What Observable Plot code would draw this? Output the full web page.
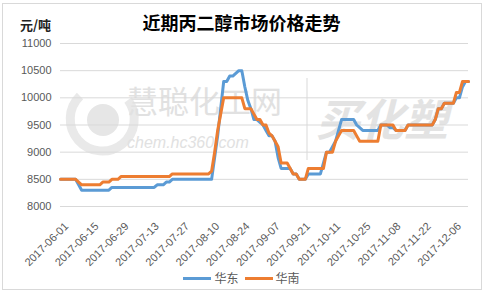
<!DOCTYPE html>
<html><head><meta charset="utf-8">
<script src="https://cdn.jsdelivr.net/npm/d3@7"></script>
<script src="https://cdn.jsdelivr.net/npm/@observablehq/plot@0.6"></script>
<style>
body{margin:0;background:#fff;}
#wrap{position:relative;width:488px;height:295px;overflow:hidden;background:#fff;font-family:"Noto Sans CJK SC","Noto Sans",sans-serif;}
#frame{position:absolute;left:2px;top:3px;width:480px;height:287px;border:1px solid #d9d9d9;box-sizing:border-box;}
#wm{position:absolute;left:0;top:0;width:488px;height:295px;}
#chart{position:absolute;left:0;top:0;}
#title{position:absolute;left:0;width:483px;top:9px;text-align:center;font-size:18px;font-weight:bold;color:#000;line-height:26px;}
#unit{position:absolute;left:20px;top:16px;font-size:13px;font-weight:bold;color:#222;line-height:18px;}
#legend{position:absolute;left:0;width:483px;top:269px;display:flex;justify-content:center;align-items:center;font-size:12px;color:#595959;line-height:18px;}
.sw{display:inline-block;width:28px;height:3px;margin-right:3px;}
.it{display:flex;align-items:center;margin:0 2px;}
</style></head>
<body>
<div id="wrap">
  <div id="frame"></div>
  <svg id="wm" width="488" height="295">
    <circle cx="103" cy="120" r="16" fill="#e6e6e6"/>
    <path d="M 80 96 A 32 32 0 1 0 128 100" fill="none" stroke="#e9e9e9" stroke-width="9"/>
    <text x="127" y="113" font-size="31" fill="#e1e1e1" font-family="Noto Sans CJK SC">慧聪化工网</text>
    <text x="127" y="148" font-size="16" font-style="italic" fill="#e1e1e1" font-family="Liberation Sans">chem.hc360.com</text>
    <line x1="307" y1="78" x2="307" y2="160" stroke="#e6e6e6" stroke-width="1.5"/>
    <text x="316" y="136" font-size="44" font-weight="bold" font-style="italic" fill="#e3e3e3" font-family="Noto Sans CJK SC">买化塑</text>
  </svg>
  <div id="chart"></div>
  <div id="title">近期丙二醇市场价格走势</div>
  <div id="unit">元/吨</div>
  <div id="legend">
    <span class="it"><span class="sw" style="background:#5b9bd5"></span>华东</span>
    <span class="it" style="margin-left:4px"><span class="sw" style="background:#ed7d31"></span>华南</span>
  </div>
</div>
<script>
// x tick positions (trading-day index) and their labels
const tickIdx = [0, 10, 20, 30, 40, 50, 60, 70, 80, 90, 100, 110, 120, 130];
const tickLabels = ["2017-06-01","2017-06-15","2017-06-29","2017-07-13","2017-07-27","2017-08-10","2017-08-24","2017-09-07","2017-09-21","2017-10-11","2017-10-25","2017-11-08","2017-11-22","2017-12-06"];
const yTicks = [8000, 8500, 9000, 9500, 10000, 10500, 11000];
const seriesNames = ["华东", "华南"];

// 华东 daily prices (元/吨)
const huadong = [
  8500,8500,8500,8500,8500,8500,8400,8300,8300,8300,
  8300,8300,8300,8300,8300,8300,8300,8350,8350,8350,
  8350,8350,8350,8350,8350,8350,8350,8350,8350,8350,
  8350,8350,8400,8400,8400,8450,8450,8500,8500,8500,
  8500,8500,8500,8500,8500,8500,8500,8500,8500,8500,
  8500,8900,9300,9800,10300,10300,10400,10400,10450,10500,
  10500,10200,9950,9800,9600,9600,9550,9500,9400,9300,
  9300,9200,8900,8700,8700,8700,8700,8600,8600,8500,
  8500,8500,8600,8600,8600,8600,8600,8800,9000,9000,
  9100,9200,9400,9600,9600,9600,9600,9600,9500,9450,
  9400,9400,9400,9400,9400,9400,9500,9500,9500,9450,
  9450,9400,9400,9400,9400,9500,9500,9500,9500,9500,
  9500,9500,9500,9500,9600,9800,9800,9900,9900,9900,
  9900,10000,10000,10200,10300,10300
];
// 华南 daily prices (元/吨)
const huanan = [
  8500,8500,8500,8500,8500,8500,8450,8400,8400,8400,
  8400,8400,8400,8400,8450,8450,8450,8500,8500,8500,
  8550,8550,8550,8550,8550,8550,8550,8550,8550,8550,
  8550,8550,8550,8550,8550,8550,8550,8600,8600,8600,
  8600,8600,8600,8600,8600,8600,8600,8600,8600,8600,
  8650,9000,9400,9700,10000,10000,10000,10000,10000,10000,
  10000,9800,9800,9800,9700,9600,9600,9500,9500,9350,
  9300,9200,9100,8800,8800,8800,8700,8600,8600,8500,
  8500,8500,8700,8700,8700,8700,8700,8700,9000,9000,
  9000,9200,9300,9400,9400,9400,9400,9400,9300,9200,
  9200,9200,9200,9200,9200,9200,9500,9500,9500,9500,
  9500,9400,9400,9400,9400,9500,9500,9500,9500,9500,
  9500,9500,9500,9500,9600,9800,9800,9900,9900,9900,
  9900,10100,10100,10300,10300,10300
];

const rows = [];
huadong.forEach((v, i) => rows.push({i, v, s: seriesNames[0]}));
huanan.forEach((v, i) => rows.push({i, v, s: seriesNames[1]}));

const chart = Plot.plot({
  width: 488, height: 295,
  marginLeft: 60, marginRight: 20, marginTop: 43, marginBottom: 89,
  style: {background: "transparent", fontFamily: "'Liberation Sans', Arial, sans-serif", fontSize: "11px", color: "#595959"},
  x: {domain: [0, huadong.length - 1]},
  y: {domain: [8000, 11000]},
  color: {domain: seriesNames, range: ["#5b9bd5", "#ed7d31"]},
  marks: [
    Plot.ruleY(yTicks, {stroke: "#d9d9d9", strokeWidth: 1}),
    Plot.axisY(yTicks, {tickSize: 0, tickPadding: 9, tickFormat: (d) => String(d), fill: "#595959", fontSize: 11, label: null}),
    Plot.axisX(tickIdx, {tickSize: 0, tickRotate: -45, tickPadding: 18, dx: 6, tickFormat: (d) => tickLabels[tickIdx.indexOf(d)], label: null, fill: "#595959", fontSize: 11}),
    Plot.line(rows, {x: "i", y: "v", z: "s", stroke: "s", strokeWidth: 3, strokeLinejoin: "round", strokeLinecap: "round"})
  ]
});
document.getElementById("chart").appendChild(chart);
</script>
</body></html>
